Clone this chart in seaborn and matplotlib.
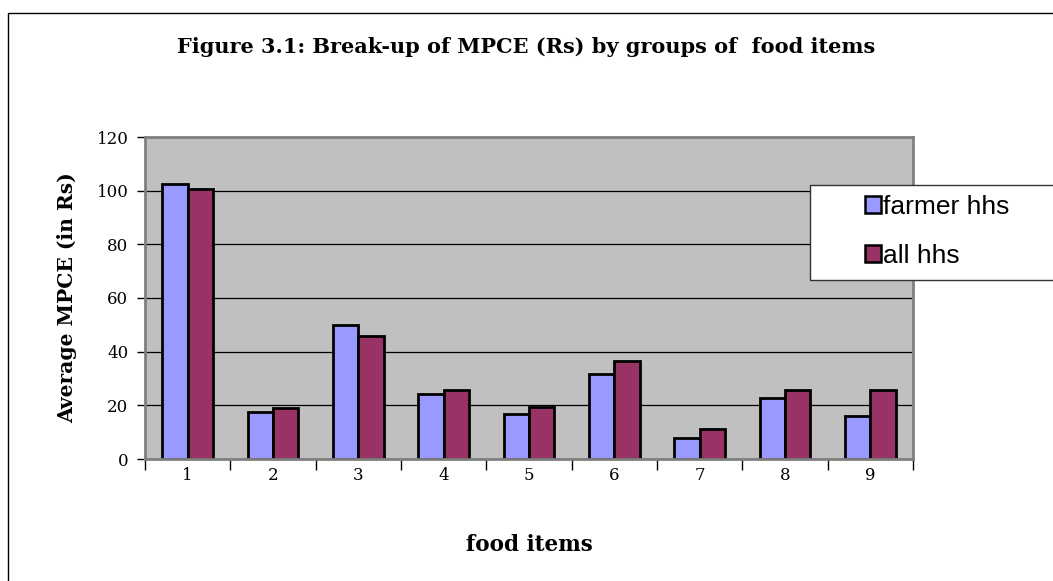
import matplotlib
matplotlib.use("Agg")
import matplotlib.pyplot as plt
from matplotlib.patches import Rectangle
from matplotlib.ticker import FixedLocator
import seaborn as sns
import pandas as pd

# values
food_items = ['1', '2', '3', '4', '5', '6', '7', '8', '9']
farmer_hhs = [102.5, 17.6, 49.9, 24.1, 16.9, 31.7, 7.8, 22.6, 16.0]
all_hhs = [100.5, 19.1, 46.0, 25.8, 19.3, 36.5, 11.3, 25.6, 25.6]
series = ['farmer hhs', 'all hhs']
colors = ['#9999FF', '#993366']

df = pd.DataFrame({
    'item': food_items * 2,
    'value': farmer_hhs + all_hhs,
    'group': [series[0]] * len(food_items) + [series[1]] * len(food_items),
})

sns.set_style('white')
plt.rcParams['font.family'] = ['DejaVu Serif']
plt.rcParams['text.color'] = 'black'
plt.rcParams['axes.labelcolor'] = 'black'
plt.rcParams['xtick.color'] = 'black'
plt.rcParams['ytick.color'] = 'black'

fig = plt.figure(figsize=(10.53, 5.81), dpi=100)
ax = fig.add_axes([145 / 1053, 1 - 459 / 581, (913 - 145) / 1053, (459 - 137) / 581])

sns.barplot(data=df, x='item', y='value', hue='group', palette=colors, saturation=1,
            width=0.59, gap=0, edgecolor='black', linewidth=2, ax=ax, legend=False)

ax.set_facecolor('#C0C0C0')
ax.set_ylim(0, 120)
ax.set_xlim(-0.5, len(food_items) - 0.5)
ax.set_yticks(range(0, 121, 20))
ax.yaxis.grid(True, color='black', linewidth=0.9)
ax.set_axisbelow(True)
for s in ax.spines.values():
    s.set_color('#808080')
    s.set_linewidth(2)

ax.tick_params(axis='y', left=True, length=6, width=1, color='black', labelsize=12, pad=6)
ax.tick_params(axis='x', which='major', length=0, labelsize=12, pad=6)
ax.xaxis.set_minor_locator(FixedLocator([i - 0.5 for i in range(len(food_items) + 1)]))
ax.tick_params(axis='x', which='minor', bottom=True, length=8, width=1, color='black')

ax.set_xlabel('food items', fontsize=15.5, fontweight='bold', labelpad=36)
ax.set_ylabel('Average MPCE (in Rs)', fontsize=14.6, fontweight='bold', labelpad=14)
fig.suptitle('Figure 3.1: Break-up of MPCE (Rs) by groups of  food items',
             fontsize=15, fontweight='bold', x=0.5, y=1 - 37 / 581, va='top')

# legend box (runs off the right edge like the original)
fig.add_artist(Rectangle((810 / 1053, 1 - 280 / 581), 0.3, 95 / 581,
                         transform=fig.transFigure, facecolor='white',
                         edgecolor='#333333', linewidth=1, clip_on=False))
handles = [Rectangle((0, 0), 1, 1, facecolor=c, edgecolor='black', linewidth=1.8) for c in colors]
fig.legend(handles, series, loc='upper left', bbox_to_anchor=(865 / 1053, 1 - 195 / 581),
           frameon=False, prop={'family': 'Liberation Sans', 'size': 19},
           handlelength=0.6, handleheight=0.6, handletextpad=0.1,
           labelspacing=0.95, borderpad=0, borderaxespad=0)

# outer chart border
fig.add_artist(Rectangle((8 / 1053, -0.1), 1.2, 1 - 13 / 581 + 0.1,
                         transform=fig.transFigure, fill=False,
                         edgecolor='black', linewidth=1, clip_on=False))

fig.savefig('out.png', dpi=100)
